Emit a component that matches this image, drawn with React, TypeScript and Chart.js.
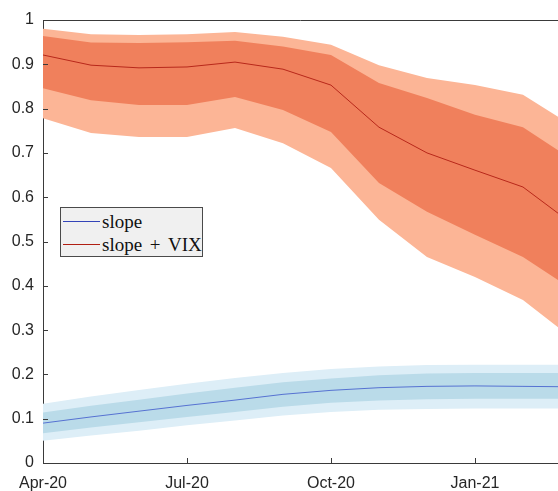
import React, { useEffect, useRef } from 'react';
import { Chart, registerables } from 'chart.js';

Chart.register(...registerables);

// x positions: months since Apr-20
const months = [0, 1, 2, 3, 4, 5, 6, 7, 8, 9, 10, 11];
const xTickValues = [0, 3, 6, 9];
const xTickLabels = ['Apr-20', 'Jul-20', 'Oct-20', 'Jan-21'];
const yTickValues = [0, 0.1, 0.2, 0.3, 0.4, 0.5, 0.6, 0.7, 0.8, 0.9, 1];
const xAxisMin = 0;
const xAxisMax = 10.73;
const seriesNames = ['slope', 'slope + VIX'];

// slope (blue)
const slopeMid = [0.090, 0.104, 0.117, 0.130, 0.142, 0.155, 0.164, 0.170, 0.173, 0.174, 0.173, 0.172];
const slopeInnerUp = [0.114, 0.129, 0.143, 0.157, 0.170, 0.182, 0.191, 0.198, 0.202, 0.203, 0.203, 0.203];
const slopeInnerLo = [0.067, 0.080, 0.092, 0.104, 0.115, 0.127, 0.136, 0.141, 0.144, 0.145, 0.145, 0.145];
const slopeOuterUp = [0.134, 0.150, 0.165, 0.179, 0.192, 0.203, 0.212, 0.218, 0.221, 0.222, 0.222, 0.222];
const slopeOuterLo = [0.050, 0.062, 0.073, 0.085, 0.096, 0.107, 0.115, 0.120, 0.122, 0.123, 0.123, 0.123];

// slope + VIX (red)
const vixMid = [0.921, 0.898, 0.892, 0.894, 0.905, 0.889, 0.853, 0.758, 0.700, 0.661, 0.623, 0.542];
const vixInnerUp = [0.964, 0.949, 0.948, 0.950, 0.953, 0.940, 0.921, 0.858, 0.824, 0.786, 0.758, 0.687];
const vixInnerLo = [0.846, 0.819, 0.808, 0.808, 0.826, 0.797, 0.747, 0.632, 0.567, 0.515, 0.465, 0.394];
const vixOuterUp = [0.980, 0.968, 0.966, 0.968, 0.973, 0.962, 0.944, 0.898, 0.869, 0.853, 0.831, 0.763];
const vixOuterLo = [0.778, 0.745, 0.736, 0.736, 0.756, 0.722, 0.666, 0.549, 0.465, 0.420, 0.368, 0.284];

const RED_OUT = '#FCB596';
const RED_IN = '#F0805C';
const RED_LINE = '#B8281A';
const BLUE_OUT = '#DDEEF7';
const BLUE_IN = '#BADBE9';
const BLUE_LINE = '#5672D2';
const AXIS = '#3a3a3a';
const TEXT = '#262626';

const pts = (arr: number[]) => arr.map((y, i) => ({ x: months[i], y }));

const band = (arr: number[], color: string, fill: any, order: number) => ({
  data: pts(arr),
  borderWidth: 0,
  pointRadius: 0,
  backgroundColor: color,
  borderColor: color,
  fill,
  order,
  tension: 0,
});

const framePlugin = {
  id: 'frame',
  afterDraw(chart: any) {
    const { ctx, chartArea } = chart;
    const { left, right, top, bottom } = chartArea;
    ctx.save();
    ctx.strokeStyle = AXIS;
    ctx.lineWidth = 1;
    ctx.beginPath();
    ctx.moveTo(left, Math.round(top) + 0.5);
    ctx.lineTo(right, Math.round(top) + 0.5);
    yTickValues.forEach((v) => {
      const py = Math.round(chart.scales.y.getPixelForValue(v)) + 0.5;
      ctx.moveTo(left, py);
      ctx.lineTo(left + 5, py);
    });
    xTickValues.forEach((v) => {
      const px = Math.round(chart.scales.x.getPixelForValue(v)) + 0.5;
      ctx.moveTo(px, bottom);
      ctx.lineTo(px, bottom - 5);
    });
    ctx.stroke();
    ctx.restore();
  },
};

export default function App() {
  const ref = useRef<HTMLCanvasElement | null>(null);

  useEffect(() => {
    if (!ref.current) return;
    const tickFont = { family: '"Liberation Sans", Arial, Helvetica, sans-serif', size: 16 };
    const chart = new Chart(ref.current, {
      type: 'line',
      data: {
        datasets: [
          band(vixOuterUp, RED_OUT, '+1', 3),
          band(vixOuterLo, RED_OUT, false, 3),
          band(vixInnerUp, RED_IN, '+1', 2),
          band(vixInnerLo, RED_IN, false, 2),
          {
            label: seriesNames[1],
            data: pts(vixMid),
            borderColor: RED_LINE,
            borderWidth: 1,
            pointRadius: 0,
            fill: false,
            order: 1,
            tension: 0,
          },
          band(slopeOuterUp, BLUE_OUT, '+1', 3),
          band(slopeOuterLo, BLUE_OUT, false, 3),
          band(slopeInnerUp, BLUE_IN, '+1', 2),
          band(slopeInnerLo, BLUE_IN, false, 2),
          {
            label: seriesNames[0],
            data: pts(slopeMid),
            borderColor: BLUE_LINE,
            borderWidth: 1,
            pointRadius: 0,
            fill: false,
            order: 1,
            tension: 0,
          },
        ] as any,
      },
      options: {
        animation: false,
        responsive: true,
        maintainAspectRatio: false,
        layout: { padding: { top: 20, right: 0, bottom: 0, left: 0 } },
        plugins: {
          legend: { display: false },
          tooltip: { enabled: false },
        },
        scales: {
          x: {
            type: 'linear',
            min: xAxisMin,
            max: xAxisMax,
            afterBuildTicks: (s: any) => {
              s.ticks = xTickValues.map((v) => ({ value: v }));
            },
            afterFit: (s: any) => {
              s.height = 28;
            },
            ticks: {
              callback: (v: any) => {
                const i = xTickValues.indexOf(Number(v));
                return i >= 0 ? xTickLabels[i] : '';
              },
              font: tickFont,
              color: TEXT,
              padding: 11,
              maxRotation: 0,
              autoSkip: false,
            },
            grid: { drawOnChartArea: false, drawTicks: false, color: 'transparent' },
            border: { color: AXIS, width: 1 },
          },
          y: {
            min: 0,
            max: 1,
            afterBuildTicks: (s: any) => {
              s.ticks = yTickValues.map((v) => ({ value: v }));
            },
            afterFit: (s: any) => {
              s.width = 43;
            },
            ticks: {
              callback: (v: any) => String(Math.round(Number(v) * 10) / 10),
              font: tickFont,
              color: TEXT,
              padding: 9,
              autoSkip: false,
            },
            grid: { drawOnChartArea: false, drawTicks: false, color: 'transparent' },
            border: { color: AXIS, width: 1 },
          },
        },
      } as any,
      plugins: [framePlugin],
    });
    return () => chart.destroy();
  }, []);

  const legendFont = '"Liberation Serif", "Times New Roman", serif';
  const legendItems = [
    { name: seriesNames[0], color: '#3344B8' },
    { name: seriesNames[1], color: '#B01E12' },
  ];

  return (
    <div
      style={{
        position: 'fixed',
        left: 0,
        top: 0,
        width: 558,
        height: 491,
        overflow: 'hidden',
        background: '#fff',
      }}
    >
      <canvas ref={ref} />
      <div
        style={{
          position: 'absolute',
          left: 60,
          top: 207,
          width: 141,
          height: 48,
          background: '#f0f0f0',
          border: '1px solid #4a4a4a',
          boxSizing: 'content-box',
        }}
      >
        {legendItems.map((it, i) => (
          <div
            key={it.name}
            style={{
              position: 'absolute',
              left: 2,
              top: 2 + i * 23,
              height: 23,
              display: 'flex',
              alignItems: 'center',
              whiteSpace: 'nowrap',
            }}
          >
            <span
              style={{
                display: 'inline-block',
                width: 37,
                height: 0,
                borderTop: `1px solid ${it.color}`,
                marginRight: 2,
              }}
            />
            <span
              style={{
                fontFamily: legendFont,
                fontSize: 19,
                color: '#111',
                lineHeight: '23px',
                wordSpacing: 3,
              }}
            >
              {it.name}
            </span>
          </div>
        ))}
      </div>
    </div>
  );
}
